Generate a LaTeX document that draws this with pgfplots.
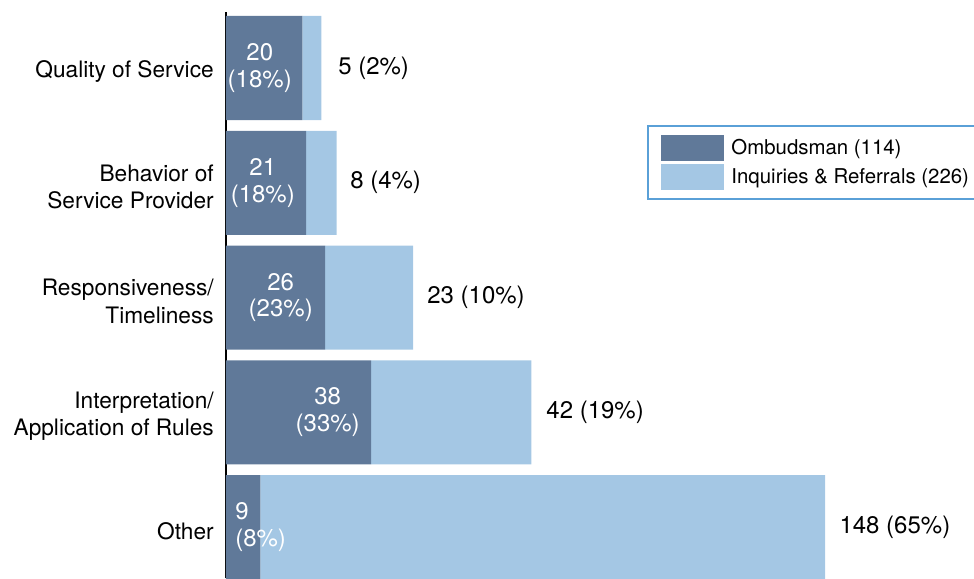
\documentclass[border=0pt]{standalone}
\usepackage{fontspec}
\setmainfont{TeX Gyre Heros}
\usepackage{pgfplots}
\pgfplotsset{compat=1.18}
\definecolor{omb}{HTML}{607999}
\definecolor{inq}{HTML}{A4C7E4}
\definecolor{legb}{HTML}{5AA0D7}
\newcommand{\lf}{\fontsize{18}{20}\selectfont}
\newcommand{\tf}{\fontsize{17}{20.5}\selectfont}
\begin{document}
\begin{tikzpicture}
\begin{axis}[
  at={(0,0)}, anchor=south west,
  scale only axis, width=561pt, height=424.5pt,
  xbar stacked, bar width=78pt,
  xmin=0, xmax=196, ymin=-0.444, ymax=4.488,
  hide x axis,
  axis y line=left,
  y axis line style={-, line width=1.1pt, black},
  ytick={0,1,2,3,4},
  yticklabels={Other, {Interpretation/\\Application of Rules}, {Responsiveness/\\Timeliness}, {Behavior of\\Service Provider}, Quality of Service},
  major tick length=0pt,
  yticklabel style={font=\tf, align=right, inner sep=0pt, xshift=-9pt, yshift=-3pt},
  legend style={at={(0.563,0.800)}, anchor=north west, draw=legb, line width=1.5pt,
    font=\fontsize{15.3}{18}\selectfont, inner xsep=10pt, inner ysep=6.5pt,
    nodes={inner sep=2pt}, row sep=2.5pt},
  legend cell align=left,
  clip=false,
]
\addplot[fill=omb, draw=none, legend image code/.code={\fill[omb,draw=none] (0pt,-9.75pt) rectangle (47pt,9.75pt);}] coordinates {(9,0) (38,1) (26,2) (21,3) (20,4)};
\addplot[fill=inq, draw=none, legend image code/.code={\fill[inq,draw=none] (0pt,-9.75pt) rectangle (47pt,9.75pt);}] coordinates {(148,0) (42,1) (23,2) (8,3) (5,4)};
\legend{\hspace{3.5pt}Ombudsman (114), \hspace{3.5pt}Inquiries \& Referrals (226)\hspace{20pt}}
\coordinate (a4) at (axis cs:17.3,4);
\coordinate (a3) at (axis cs:18.1,3);
\coordinate (a2) at (axis cs:22.8,2);
\coordinate (a1) at (axis cs:35.1,1);
\coordinate (a0) at (axis cs:2.36,0);
\coordinate (b4) at (axis cs:29.36,4);
\coordinate (b3) at (axis cs:32.5,3);
\coordinate (b2) at (axis cs:52.7,2);
\coordinate (b1) at (axis cs:83.9,1);
\coordinate (b0) at (axis cs:160.7,0);
\end{axis}
% labels inside dark bars
\node[anchor=east, align=center, text=white, inner sep=0pt, font=\lf] at (a4) {20\\(18\%)};
\node[anchor=east, align=center, text=white, inner sep=0pt, font=\lf] at (a3) {21\\(18\%)};
\node[anchor=east, align=center, text=white, inner sep=0pt, font=\lf] at (a2) {26\\(23\%)};
\node[anchor=east, align=center, text=white, inner sep=0pt, font=\lf] at (a1) {38\\(33\%)};
\node[anchor=west, align=left, text=white, inner sep=0pt, font=\lf] at (a0) {9\\(8\%)};
% labels right of bars
\node[anchor=west, inner sep=0pt, font=\lf] at (b4) {5 (2\%)};
\node[anchor=west, inner sep=0pt, font=\lf] at (b3) {8 (4\%)};
\node[anchor=west, inner sep=0pt, font=\lf] at (b2) {23 (10\%)};
\node[anchor=west, inner sep=0pt, font=\lf] at (b1) {42 (19\%)};
\node[anchor=west, inner sep=0pt, font=\lf] at (b0) {148 (65\%)};
\pgfresetboundingbox
\path[use as bounding box] (-169.5pt,0pt) rectangle (561pt,433.5pt);
\end{tikzpicture}
\end{document}
